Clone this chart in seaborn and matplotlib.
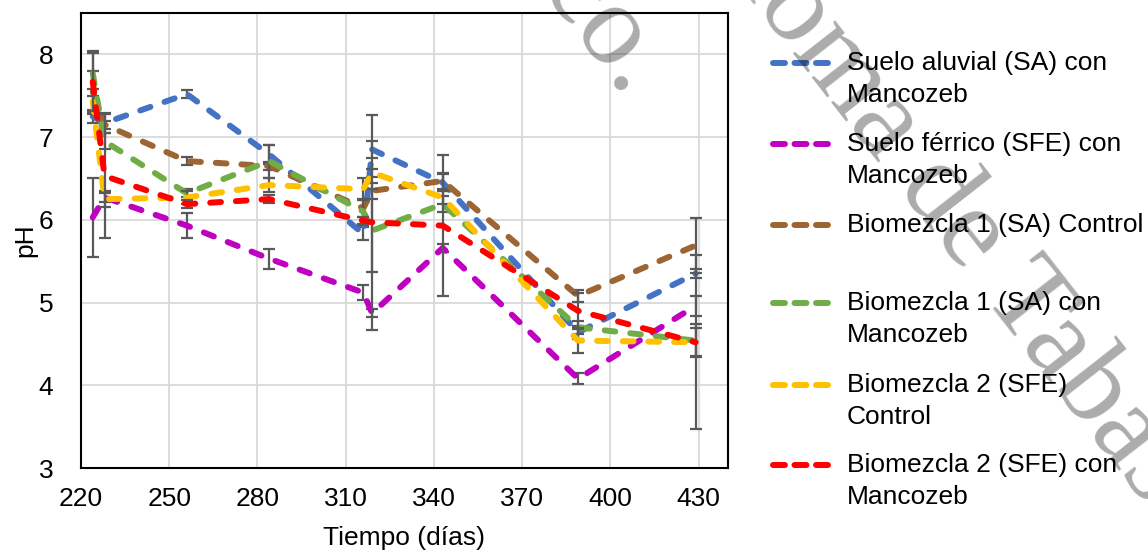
import numpy as np
import pandas as pd
import matplotlib
matplotlib.use("Agg")
import matplotlib.pyplot as plt
from matplotlib.lines import Line2D
import seaborn as sns

# ---------------- data ----------------
dias = [224, 228, 256, 284, 316, 319, 343, 389, 429]

series_names = [
    "Suelo aluvial (SA) con\nMancozeb",
    "Suelo férrico (SFE) con\nMancozeb",
    "Biomezcla 1 (SA) Control",
    "Biomezcla 1 (SA) con\nMancozeb",
    "Biomezcla 2 (SFE)\nControl",
    "Biomezcla 2 (SFE) con\nMancozeb",
]

ph_sa_manc = [7.25, 7.17, 7.52, 6.79, 5.83, 6.85, 6.45, 4.64, 5.35]
ph_sfe_manc = [6.03, 6.27, 5.93, 5.53, 5.12, 4.87, 5.66, 4.08, 4.96]
ph_b1_ctrl = [7.55, 7.15, 6.71, 6.65, 6.14, 6.35, 6.47, 5.08, 5.69]
ph_b1_manc = [7.77, 6.95, 6.32, 6.71, 6.10, 5.87, 6.19, 4.70, 4.54]
ph_b2_ctrl = [7.43, 6.25, 6.27, 6.42, 6.37, 6.57, 6.27, 4.54, 4.52]
ph_b2_manc = [7.67, 6.53, 6.19, 6.25, 5.99, 5.97, 5.93, 4.90, 4.52]

err_sa_manc = [0.08, 0.12, 0.05, 0.12, 0.08, 0.10, 0.10, 0.08, 0.05]
err_sfe_manc = [0.48, 0.05, 0.15, 0.12, 0.09, 0.05, 0.05, 0.07, 0.12]
err_b1_ctrl = [0.25, 0.05, 0.05, 0.05, 0.10, 0.10, 0.10, 0.07, 0.33]
err_b1_manc = [0.27, 0.10, 0.05, 0.20, 0.15, 0.50, 0.10, 0.08, 0.20]
err_b2_ctrl = [0.15, 0.10, 0.08, 0.08, 0.13, 0.05, 0.08, 0.15, 1.05]
err_b2_manc = [0.35, 0.75, 0.05, 0.05, 0.05, 1.30, 0.85, 0.22, 0.17]

colors = ["#4472C4", "#C000C0", "#9C6531", "#70AD47", "#FFC000", "#FF0000"]

x_ticks = [220, 250, 280, 310, 340, 370, 400, 430]
y_ticks = [3, 4, 5, 6, 7, 8]

values = [ph_sa_manc, ph_sfe_manc, ph_b1_ctrl, ph_b1_manc, ph_b2_ctrl, ph_b2_manc]
errors = [err_sa_manc, err_sfe_manc, err_b1_ctrl, err_b1_manc, err_b2_ctrl, err_b2_manc]

rows = []
for name, vals, errs in zip(series_names, values, errors):
    for d, v, e in zip(dias, vals, errs):
        rows.append({"serie": name, "dia": d, "ph": v, "err": e})
df = pd.DataFrame(rows)

# ---------------- style ----------------
sns.set_theme(style="white")
plt.rcParams["font.family"] = ["Liberation Sans", "DejaVu Sans"]
plt.rcParams["text.color"] = "black"
plt.rcParams["xtick.color"] = "black"
plt.rcParams["ytick.color"] = "black"
plt.rcParams["axes.labelcolor"] = "black"

W, H = 1148, 552
fig = plt.figure(figsize=(W / 100, H / 100), dpi=100)
ax = fig.add_axes([81 / W, 1 - 468 / H, (728 - 81) / W, (468 - 13) / H])

FS = 19
LW = 4.3
dash = (0, (1.8, 2.5))

for i, name in enumerate(series_names):
    sub = df[df["serie"] == name]
    ax.errorbar(sub["dia"], sub["ph"], yerr=sub["err"], fmt="none",
                ecolor="#595959", elinewidth=1.6, capsize=4.5, capthick=1.6,
                zorder=3 + 2 * i)
    sns.lineplot(data=sub, x="dia", y="ph", ax=ax, color=colors[i],
                 linewidth=LW, linestyle=dash, dash_capstyle="round",
                 estimator=None, sort=False, legend=False, zorder=4 + 2 * i)

ax.set_xlim(220, 440)
ax.set_ylim(3, 8.5)
ax.set_xticks(x_ticks)
ax.set_yticks(y_ticks)
ax.set_xticklabels([str(t) for t in x_ticks], fontsize=FS, color="black")
ax.set_yticklabels([str(t) for t in y_ticks], fontsize=FS, color="black")
ax.tick_params(axis="both", length=0, colors="black", labelcolor="black")
ax.tick_params(axis="x", pad=14)
ax.tick_params(axis="y", pad=20)
ax.grid(True, color="#D9D9D9", linewidth=1.3, zorder=0)
ax.set_axisbelow(True)
for sp in ax.spines.values():
    sp.set_visible(True)
    sp.set_color("black")
    sp.set_linewidth(1.5)
ax.set_xlabel("")
ax.set_ylabel("")

fig.text(404 / W, 1 - 538 / H, "Tiempo (días)", fontsize=FS, ha="center",
         va="center", color="black")
fig.text(25 / W, 1 - 240 / H, "pH", fontsize=FS, ha="center", va="center",
         rotation=90, color="black")

# ---------------- legend (manual, first-line aligned) ----------------
leg_y = [63, 144, 225, 303, 385, 465]
for i, name in enumerate(series_names):
    yy = 1 - leg_y[i] / H
    fig.add_artist(Line2D([773 / W, 833 / W], [yy, yy], color=colors[i],
                          linewidth=LW, linestyle=(0, (2.0, 1.6)),
                          dash_capstyle="round", transform=fig.transFigure))
    for j, line in enumerate(name.split("\n")):
        fig.text(847 / W, 1 - (leg_y[i] + 32 * j) / H, line, fontsize=FS,
                 ha="left", va="center", color="black")

# ---------------- watermark ----------------
wm_kw = dict(fontsize=84, family=["Liberation Serif", "DejaVu Serif"],
             color="black", alpha=0.33, rotation=-52, rotation_mode="anchor",
             zorder=100)
fig.text(624 / W, 1 - 100 / H, "México.", ha="right", va="baseline", **wm_kw)
fig.text(612 / W, 1 - (-178) / H, "Universidad Juárez Autónoma de Tabasco",
         ha="center", va="baseline", **wm_kw)

fig.savefig("out.png", dpi=100)
